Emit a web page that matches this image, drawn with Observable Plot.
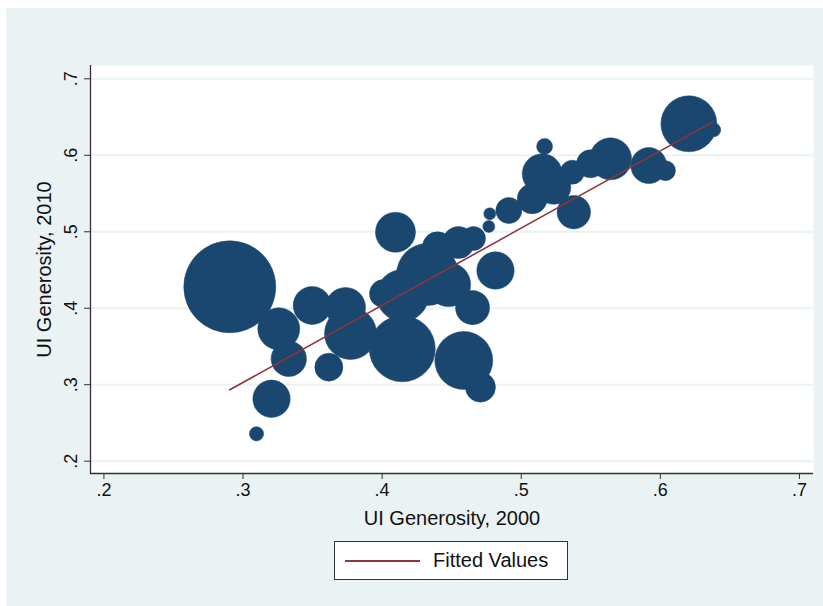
<!DOCTYPE html>
<html>
<head>
<meta charset="utf-8">
<script src="https://cdn.jsdelivr.net/npm/d3@7"></script>
<script src="https://cdn.jsdelivr.net/npm/@observablehq/plot@0.6"></script>
<style>
  body { margin: 0; background: #ffffff; font-family: "Liberation Sans", Arial, Helvetica, sans-serif; }
  #bg { position: absolute; left: 6px; top: 8px; width: 817px; height: 598px; background: #eaf2f3; }
  #chart { position: absolute; left: 0; top: 0; }
  #legend { position: absolute; left: 334px; top: 541px; width: 232px; height: 37px; background: #fff;
            border: 1px solid #333; display: flex; align-items: center; font-size: 20px; color: #111; }
  #legend .swatch { width: 75px; height: 0; border-top: 2px solid #90353b; margin-left: 10px; }
  #legend .lab { margin-left: 13px; }
</style>
</head>
<body>
<div id="bg"></div>
<div id="chart"></div>
<div id="legend"><div class="swatch"></div><div class="lab" id="legendLabel"></div></div>
<script>
// UI generosity in 2000 (x) and 2010 (y), bubble weights
const gen2000 = [0.2905,0.3257,0.3329,0.3617,0.3205,0.3097,0.3497,0.3773,0.3737,0.4096,
                 0.4145,0.4587,0.4707,0.4650,0.4815,0.4326,0.4147,0.4478,0.4010,0.4398,
                 0.4549,0.4657,0.4774,0.4767,0.4911,0.5079,0.5234,0.5151,0.5168,0.5367,
                 0.5378,0.5498,0.5642,0.5917,0.6037,0.6205,0.6384];
const gen2010 = [0.4280,0.3731,0.3339,0.3229,0.2816,0.2358,0.4036,0.3670,0.4010,0.4994,
                 0.3470,0.3317,0.2968,0.4008,0.4493,0.4441,0.4167,0.4309,0.4191,0.4803,
                 0.4859,0.4911,0.5235,0.5069,0.5278,0.5431,0.5583,0.5758,0.6115,0.5779,
                 0.5256,0.5889,0.5954,0.5866,0.5799,0.6412,0.6333];
const weights = [100,20.8,14.8,9.3,16.5,2.4,17,32,18.9,18.9,
                 51.5,39.7,10.6,13.7,16.5,45.4,31.9,22.9,9.3,10.6,
                 12.1,6.8,1.7,1.7,8,10.6,13.7,18.9,3,6.8,
                 13.2,9.3,20.8,15.3,4.7,37,2.3];
const fitX = [0.2905, 0.6373];
const fitY = [0.2934, 0.6433];
const xTicks = [0.2, 0.3, 0.4, 0.5, 0.6, 0.7];
const yTicks = [0.2, 0.3, 0.4, 0.5, 0.6, 0.7];
const xTickLabels = [".2", ".3", ".4", ".5", ".6", ".7"];
const yTickLabels = [".2", ".3", ".4", ".5", ".6", ".7"];
const xTitle = "UI Generosity, 2000";
const yTitle = "UI Generosity, 2010";
const legendLabel = "Fitted Values";
const xDomain = [0.19037, 0.7101];
const yDomain = [0.1839, 0.7174];

const points = gen2000.map((x, i) => ({x, y: gen2010[i], w: weights[i]}));
const fit = fitX.map((x, i) => ({x, y: fitY[i]}));
const xLab = new Map(xTicks.map((t, i) => [t, xTickLabels[i]]));
const yLab = new Map(yTicks.map((t, i) => [t, yTickLabels[i]]));

const navy = "#1a476f";
const maroon = "#90353b";

const chart = Plot.plot({
  width: 823,
  height: 535,
  marginLeft: 90,
  marginRight: 10,
  marginTop: 65,
  marginBottom: 62,
  style: {background: "transparent", fontFamily: "'Liberation Sans', Arial, Helvetica, sans-serif", fontSize: "18px", color: "#111"},
  x: {domain: xDomain},
  y: {domain: yDomain},
  r: {domain: [0, 100], range: [0, 46]},
  marks: [
    Plot.frame({fill: "white", stroke: null}),
    Plot.gridY(yTicks, {stroke: "#eaf2f3", strokeOpacity: 1, strokeWidth: 2}),
    Plot.ruleX([xDomain[0]], {stroke: "#333", strokeWidth: 1.3}),
    Plot.ruleY([yDomain[0]], {stroke: "#333", strokeWidth: 1.3}),
    Plot.axisX({ticks: xTicks, tickFormat: d => xLab.get(d), tickSize: 6, tickPadding: 4,
                fontSize: 18, stroke: "#333", label: null}),
    Plot.axisY({ticks: yTicks, tickSize: 6, tickFormat: () => "", stroke: "#333", label: null}),
    Plot.text(yTicks, {y: d => d, text: d => yLab.get(d), frameAnchor: "left", dx: -14,
                       rotate: -90, textAnchor: "middle", lineAnchor: "bottom", fontSize: 18}),
    Plot.text([xTitle], {frameAnchor: "bottom", dy: 51, textAnchor: "middle", fontSize: 20}),
    Plot.text([yTitle], {frameAnchor: "left", dx: -46, rotate: -90, textAnchor: "middle", fontSize: 20}),
    Plot.dot(points, {x: "x", y: "y", r: "w", fill: navy, stroke: navy, strokeWidth: 0.5}),
    Plot.line(fit, {x: "x", y: "y", stroke: maroon, strokeWidth: 1.6})
  ]
});
document.getElementById("chart").appendChild(chart);
document.getElementById("legendLabel").textContent = legendLabel;
</script>
</body>
</html>
